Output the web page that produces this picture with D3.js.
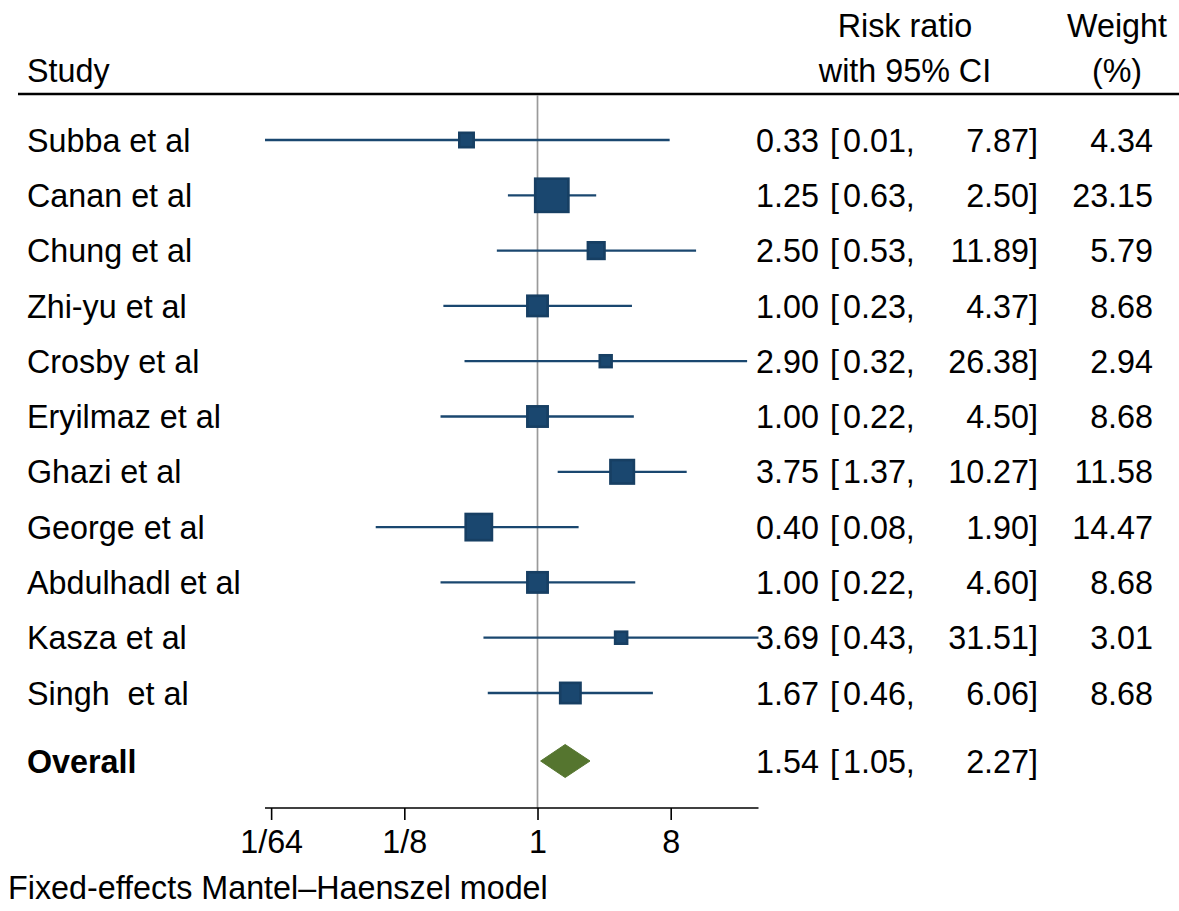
<!DOCTYPE html>
<html>
<head>
<meta charset="utf-8">
<script src="https://cdn.jsdelivr.net/npm/d3@7"></script>
<style>
  html, body { margin: 0; padding: 0; background: #fff; }
  svg text { font-family: "Liberation Sans", Arial, sans-serif; fill: #000; }
</style>
</head>
<body>
<svg id="chart" width="1179" height="911"></svg>
<script>
// ---- data ----
const studies = ["Subba et al", "Canan et al", "Chung et al", "Zhi-yu et al", "Crosby et al",
  "Eryilmaz et al", "Ghazi et al", "George et al", "Abdulhadl et al", "Kasza et al", "Singh  et al"];
const rr     = [0.33, 1.25, 2.50, 1.00, 2.90, 1.00, 3.75, 0.40, 1.00, 3.69, 1.67];
const lo     = [0.0142, 0.63, 0.53, 0.23, 0.32, 0.22, 1.37, 0.08, 0.22, 0.43, 0.46];
const hi     = [7.87, 2.50, 11.89, 4.37, 26.38, 4.50, 10.27, 1.90, 4.60, 31.51, 6.06];
const weight = [4.34, 23.15, 5.79, 8.68, 2.94, 8.68, 11.58, 14.47, 8.68, 3.01, 8.68];
const overall = {label: "Overall", rr: 1.54, lo: 1.05, hi: 2.27};
const tickValues = [1/64, 1/8, 1, 8];
const tickLabels = ["1/64", "1/8", "1", "8"];
const footnote = "Fixed-effects Mantel\u2013Haenszel model";

// ---- layout ----
const svg = d3.select("#chart");
const FS = 32.3;
const navy = "#1a476f", green = "#55752f";
const fmt = d3.format(".2f");

const x = d3.scaleLog().base(2)
  .domain([d3.min(lo), d3.max(hi)])
  .range([265, 758.5]);

const y = d3.scaleLinear().domain([0, studies.length - 1]).range([140, 693]);
const yOverall = 761;
const axisY = 808;

const size = d3.scaleSqrt().domain([0, d3.max(weight)]).range([0, 33.2]);

// header
const hdr = svg.append("g");
hdr.append("text").attr("x", 27).attr("y", 82).attr("font-size", FS).text("Study");
hdr.append("text").attr("x", 905).attr("y", 37).attr("text-anchor", "middle").attr("font-size", FS).text("Risk ratio");
hdr.append("text").attr("x", 905).attr("y", 82).attr("text-anchor", "middle").attr("font-size", FS).text("with 95% CI");
hdr.append("text").attr("x", 1117).attr("y", 37).attr("text-anchor", "middle").attr("font-size", FS).text("Weight");
hdr.append("text").attr("x", 1117).attr("y", 82).attr("text-anchor", "middle").attr("font-size", FS).text("(%)");
svg.append("line").attr("x1", 18).attr("x2", 1179).attr("y1", 94).attr("y2", 94)
  .attr("stroke", "#000").attr("stroke-width", 2.4);

// reference line at 1
svg.append("line").attr("x1", x(1)).attr("x2", x(1)).attr("y1", 95).attr("y2", axisY)
  .attr("stroke", "#9a9a9a").attr("stroke-width", 1.7);

// study rows
const rows = svg.append("g").selectAll("g").data(studies).join("g")
  .attr("transform", (d, i) => `translate(0,${y(i)})`);

rows.append("line")
  .attr("x1", (d, i) => x(lo[i])).attr("x2", (d, i) => x(hi[i]))
  .attr("stroke", navy).attr("stroke-width", 2.3);

rows.append("rect")
  .attr("x", (d, i) => x(rr[i]) - size(weight[i]) / 2)
  .attr("y", (d, i) => -size(weight[i]) / 2)
  .attr("width", (d, i) => size(weight[i]))
  .attr("height", (d, i) => size(weight[i]))
  .attr("fill", navy).attr("stroke", "#173f63").attr("stroke-width", 2.6);

rows.append("text").attr("x", 27).attr("dy", "0.36em").attr("font-size", FS)
  .style("white-space", "pre").text(d => d);

rows.append("text").attr("x", 756).attr("dy", "0.36em").attr("font-size", FS)
  .text((d, i) => fmt(rr[i]));
rows.append("text").attr("x", 830).attr("dy", "0.36em").attr("font-size", FS).text("[");
rows.append("text").attr("x", 843).attr("dy", "0.36em").attr("font-size", FS)
  .text((d, i) => fmt(lo[i]) + ",");
rows.append("text").attr("x", 1038).attr("dy", "0.36em").attr("text-anchor", "end").attr("font-size", FS)
  .text((d, i) => fmt(hi[i]) + "]");
rows.append("text").attr("x", 1153).attr("dy", "0.36em").attr("text-anchor", "end").attr("font-size", FS)
  .text((d, i) => fmt(weight[i]));

// overall
const og = svg.append("g").attr("transform", `translate(0,${yOverall})`);
og.append("path")
  .attr("d", `M${x(overall.lo)},0 L${x(overall.rr)},-16.5 L${x(overall.hi)},0 L${x(overall.rr)},16.5 Z`)
  .attr("fill", green).attr("stroke", green).attr("stroke-width", 1);
og.append("text").attr("x", 27).attr("dy", "0.36em").attr("font-size", FS).attr("font-weight", "bold").text(overall.label);
og.append("text").attr("x", 756).attr("dy", "0.36em").attr("font-size", FS).text(fmt(overall.rr));
og.append("text").attr("x", 830).attr("dy", "0.36em").attr("font-size", FS).text("[");
og.append("text").attr("x", 843).attr("dy", "0.36em").attr("font-size", FS).text(fmt(overall.lo) + ",");
og.append("text").attr("x", 1038).attr("dy", "0.36em").attr("text-anchor", "end").attr("font-size", FS).text(fmt(overall.hi) + "]");

// axis
const axis = d3.axisBottom(x).tickValues(tickValues)
  .tickFormat((d, i) => tickLabels[i]).tickSize(12).tickPadding(10).tickSizeOuter(0);
const ag = svg.append("g").attr("transform", `translate(0,${axisY})`).call(axis);
ag.select(".domain").attr("stroke", "#000").attr("stroke-width", 1.6).attr("d", `M${x.range()[0]},0H${x.range()[1]}`);
ag.selectAll(".tick line").attr("stroke", "#000").attr("stroke-width", 1.6);
ag.selectAll(".tick text").attr("font-size", FS).attr("font-family", "'Liberation Sans', Arial, sans-serif").attr("fill", "#000");

// footnote
svg.append("text").attr("x", 8).attr("y", 899).attr("font-size", FS).text(footnote);
</script>
</body>
</html>
